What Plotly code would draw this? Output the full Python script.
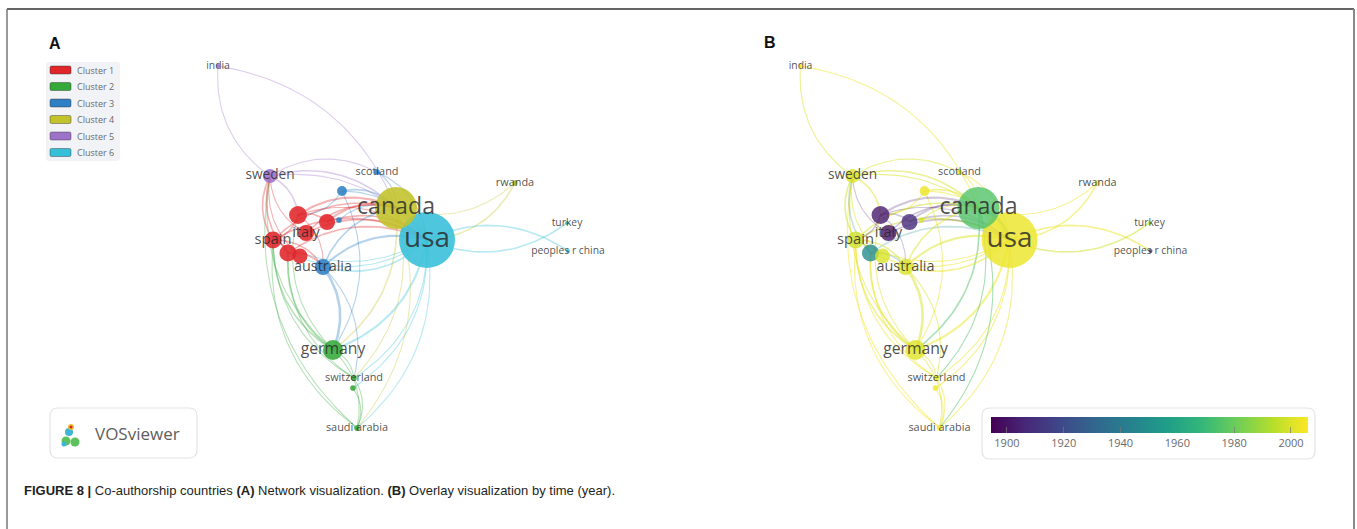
import numpy as np
import plotly.graph_objects as go
from plotly.colors import sample_colorscale

W, H = 1357, 529
SHIFT_B = 582.5  # panel B is the same map drawn further right

# ---- data (VOSviewer map coordinates) ----
node_names = ["usa", "canada", "australia", "germany", "sweden", "spain", "italy",
              "scotland", "rwanda", "turkey", "peoples r china", "india",
              "switzerland", "saudi arabia", "", "", "", "", "", "", ""]
node_x = [427, 396, 323, 333, 270, 273, 306, 377, 515, 567, 568, 218,
          354, 357, 298, 327, 288, 300, 342, 339, 353]
node_y = [240, 208, 267, 350, 176, 240, 233, 172, 183, 223, 251, 66,
          378, 428, 215, 222, 253, 256, 191, 220, 388]
node_weight = [196, 110, 16, 25, 12, 18, 16, 2, 2, 1, 1, 1,
               2, 2, 20, 16, 18, 14, 6, 2, 2]
node_cluster = [6, 4, 3, 2, 5, 1, 1, 3, 4, 6, 6, 5,
                2, 2, 1, 1, 1, 1, 3, 3, 2]
node_year = [2003, 1975, 2000, 2001, 2000, 1998, 1900, 2003, 2004, 1998, 1910, 2003,
             2004, 2005, 1903, 1908, 1948, 2000, 2003, 2000, 2004]

edge_source = [11, 4, 8, 8, 0, 9, 0, 0, 0, 0, 1, 1, 3, 3, 3, 3, 12, 13, 13, 2,
               18, 2, 5, 16, 0, 0, 0, 14, 15, 6, 5, 6, 15, 14, 1, 4, 4, 4, 5,
               16, 17, 6, 4, 7, 7, 18, 18, 18, 19, 14, 14, 5, 5, 16, 2, 14,
               3, 12, 20, 3, 12, 2, 1]
edge_target = [1, 11, 0, 1, 10, 0, 3, 12, 13, 20, 3, 13, 4, 5, 16, 14, 5, 5, 4, 3,
               3, 0, 0, 0, 16, 2, 5, 1, 1, 1, 1, 0, 0, 0, 0, 1, 0, 14, 4,
               4, 4, 4, 7, 0, 1, 1, 14, 0, 1, 15, 5, 16, 2, 2, 1, 2,
               12, 13, 13, 13, 16, 12, 12]
edge_strength = [1, 1, 2, 1, 2, 2, 3, 1, 1, 1, 2, 1, 1, 2, 2, 1, 1, 1, 1, 4,
                 1, 3, 2, 2, 1, 2, 1, 3, 3, 2, 2, 2, 2, 1, 5, 2, 1, 2, 2,
                 2, 1, 1, 1, 1, 1, 2, 1, 1, 1, 2, 2, 2, 2, 2, 2, 1,
                 1, 1, 1, 1, 1, 1, 1]

cluster_names = ["Cluster 1", "Cluster 2", "Cluster 3", "Cluster 4", "Cluster 5", "Cluster 6"]
cluster_colors = ["#e0262a", "#35a83a", "#2f7fc4", "#c2c22a", "#9e72c9", "#35bfd9"]

year_min, year_max = 1894.4, 2006.0
year_ticks = [1900, 1920, 1940, 1960, 1980, 2000]

caption = ("<b>FIGURE 8 |</b> Co-authorship countries <b>(A)</b> Network visualization. "
           "<b>(B)</b> Overlay visualization by time (year).")


def rgba(hex_color, a):
    h = hex_color.lstrip("#")
    return f"rgba({int(h[0:2], 16)},{int(h[2:4], 16)},{int(h[4:6], 16)},{a})"


def year_color(y):
    t = (y - year_min) / (year_max - year_min)
    return sample_colorscale("Viridis", [min(max(t, 0), 1)])[0]


def rgb_to_rgba(c, a):
    return c.replace("rgb(", "rgba(").replace(")", f",{a})")


def curve(x0, y0, x1, y1, c=0.28, n=30):
    # VOSviewer style curved link (quadratic bezier)
    dx, dy = x1 - x0, y1 - y0
    cx = (x0 + x1) / 2 + c * dy
    cy = (y0 + y1) / 2 - c * dx
    t = np.linspace(0, 1, n)
    bx = (1 - t) ** 2 * x0 + 2 * (1 - t) * t * cx + t ** 2 * x1
    by = (1 - t) ** 2 * y0 + 2 * (1 - t) * t * cy + t ** 2 * y1
    return bx, by


sizes = [4 * np.sqrt(w) for w in node_weight]
label_sizes = [9 + 1.35 * np.sqrt(w) for w in node_weight]
label_color = "rgba(40,40,40,0.82)"

fig = go.Figure()

# ---- edges ----
for s, t, k in zip(edge_source, edge_target, edge_strength):
    bx, by = curve(node_x[s], node_y[s], node_x[t], node_y[t])
    wdt = 0.6 + 0.5 * k
    fig.add_trace(go.Scatter(
        x=bx, y=by, mode="lines", xaxis="x", yaxis="y",
        line=dict(color=rgba(cluster_colors[node_cluster[s] - 1], 0.35), width=wdt),
        hoverinfo="skip", showlegend=False))
    b_alpha = 0.5 if node_year[s] > 1960 else 0.25
    fig.add_trace(go.Scatter(
        x=bx, y=by, mode="lines", xaxis="x2", yaxis="y",
        line=dict(color=rgb_to_rgba(year_color(node_year[s]), b_alpha), width=wdt),
        hoverinfo="skip", showlegend=False))

# ---- nodes A ----
fig.add_trace(go.Scatter(
    x=node_x, y=node_y, mode="markers", xaxis="x", yaxis="y",
    marker=dict(size=sizes, color=[cluster_colors[c - 1] for c in node_cluster],
                opacity=0.88, line=dict(width=0)),
    hoverinfo="skip", showlegend=False))

# ---- nodes B (overlay by year) ----
fig.add_trace(go.Scatter(
    x=node_x, y=node_y, mode="markers", xaxis="x2", yaxis="y",
    marker=dict(size=sizes, color=node_year, colorscale="Viridis",
                cmin=year_min, cmax=year_max, opacity=0.8, line=dict(width=0),
                showscale=True,
                colorbar=dict(orientation="h", x=991 / W, xanchor="left",
                              len=(1308 - 991) / W, lenmode="fraction",
                              y=1 - 417 / H, yanchor="top", thickness=16,
                              xpad=0, ypad=0, outlinewidth=0,
                              tickvals=year_ticks, ticks="inside", ticklen=6,
                              tickcolor="rgba(120,120,120,0.7)",
                              tickfont=dict(family="Open Sans", size=11, color="#6a6a6a"))),
    hoverinfo="skip", showlegend=False))

# ---- labels ----
for ax in ["x", "x2"]:
    fig.add_trace(go.Scatter(
        x=node_x, y=node_y, mode="text", xaxis=ax, yaxis="y",
        text=node_names, textposition="middle center",
        textfont=dict(family="Open Sans", size=label_sizes, color=label_color),
        hoverinfo="skip", showlegend=False))


def rounded(x0, y0, x1, y1, r):
    return (f"M{x0 + r},{y0} L{x1 - r},{y0} Q{x1},{y0} {x1},{y0 + r} "
            f"L{x1},{y1 - r} Q{x1},{y1} {x1 - r},{y1} L{x0 + r},{y1} "
            f"Q{x0},{y1} {x0},{y1 - r} L{x0},{y0 + r} Q{x0},{y0} {x0 + r},{y0} Z")


shapes = []
annotations = []

# frame
shapes.append(dict(type="line", xref="x", yref="y", x0=7, x1=1354, y0=9, y1=9,
                   line=dict(color="#333333", width=1.5)))
shapes.append(dict(type="line", xref="x", yref="y", x0=7, x1=7, y0=9, y1=540,
                   line=dict(color="#777777", width=1.5)))
shapes.append(dict(type="line", xref="x", yref="y", x0=1354, x1=1354, y0=9, y1=540,
                   line=dict(color="#8a8a8a", width=2)))

# cluster legend (panel A)
shapes.append(dict(type="path", xref="x", yref="y", path=rounded(46, 62, 120, 161, 3),
                   fillcolor="#f1f3f6", line=dict(width=0), layer="below"))
for i, (nm, col) in enumerate(zip(cluster_names, cluster_colors)):
    yc = 70 + i * 16.5
    shapes.append(dict(type="path", xref="x", yref="y",
                       path=rounded(50, yc - 4, 71, yc + 4, 1.5),
                       fillcolor=col, line=dict(color="rgba(40,40,40,0.5)", width=0.8)))
    annotations.append(dict(x=75, y=yc, xref="x", yref="y", text=nm, showarrow=False,
                            xanchor="left", yanchor="middle",
                            font=dict(family="Open Sans", size=9, color="#6b6b6b")))

# VOSviewer logo box
shapes.append(dict(type="path", xref="x", yref="y", path=rounded(50, 408, 197, 458, 8),
                   fillcolor="white", line=dict(color="#e3e3e3", width=1.2)))
for cx, cy, r, col in [(66, 441, 4.5, "#5cc35c"), (75, 442, 4.5, "#5cc35c"),
                       (69, 432, 4, "#3fb6d6"), (71, 427, 3, "#f0c030"),
                       (71, 427, 1.6, "#d8262a"), (64, 444, 2.5, "#3fb6d6")]:
    shapes.append(dict(type="circle", xref="x", yref="y", x0=cx - r, x1=cx + r,
                       y0=cy - r, y1=cy + r, fillcolor=col, line=dict(width=0)))
annotations.append(dict(x=137, y=433, xref="x", yref="y", text="VOSviewer", showarrow=False,
                        xanchor="center", yanchor="middle",
                        font=dict(family="Open Sans", size=17, color="#5e5e5e")))

# colour bar box (panel B)
shapes.append(dict(type="path", xref="x", yref="y", path=rounded(982, 408, 1315, 459, 8),
                   fillcolor="white", line=dict(color="#e3e3e3", width=1.2), layer="below"))

# panel letters
annotations.append(dict(x=55, y=43, xref="x", yref="y", text="<b>A</b>", showarrow=False,
                        font=dict(family="Liberation Sans", size=16, color="#111111")))
annotations.append(dict(x=770, y=42, xref="x", yref="y", text="<b>B</b>", showarrow=False,
                        font=dict(family="Liberation Sans", size=16, color="#111111")))

# caption
annotations.append(dict(x=22, y=490, xref="x", yref="y", text=caption, showarrow=False,
                        xanchor="left", yanchor="middle",
                        font=dict(family="Liberation Sans", size=13, color="#231f20")))

fig.update_layout(
    width=W, height=H,
    margin=dict(l=0, r=0, t=0, b=0),
    paper_bgcolor="white", plot_bgcolor="white",
    xaxis=dict(range=[0, W], visible=False, fixedrange=True),
    xaxis2=dict(range=[-SHIFT_B, W - SHIFT_B], visible=False, overlaying="x",
                anchor="y", fixedrange=True),
    yaxis=dict(range=[H, 0], visible=False, fixedrange=True),
    shapes=shapes, annotations=annotations,
    showlegend=False,
)

fig.write_html("out.html", config={"displayModeBar": False},
               post_script="document.body.style.margin='0';")
